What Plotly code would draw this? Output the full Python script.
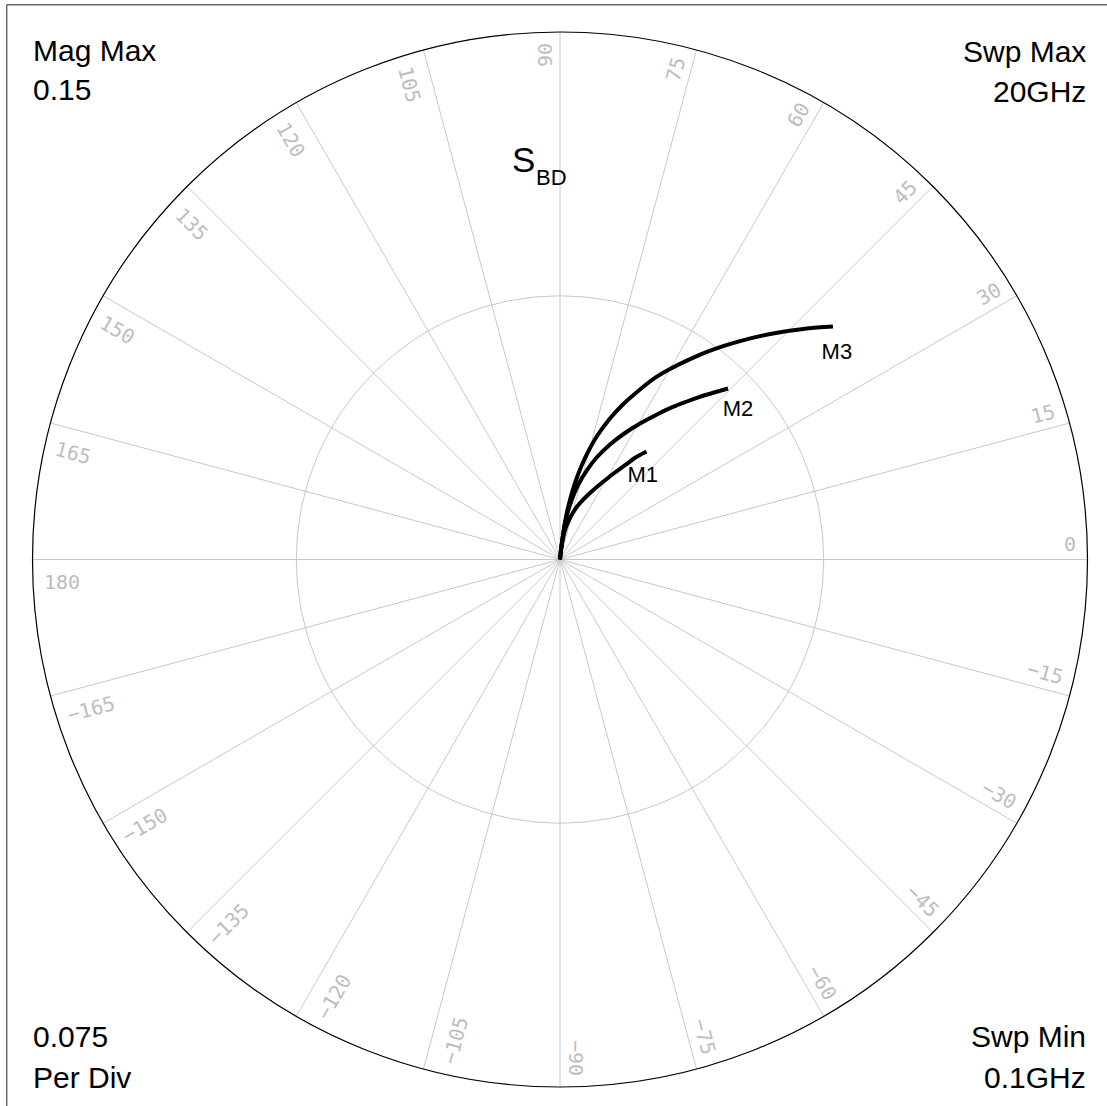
import math
import plotly.graph_objects as go

# ---------------- data (magnitude, phase in degrees) ----------------
m1_mag = [0.0, 0.00272, 0.00676, 0.00940, 0.01214, 0.01534, 0.01814, 0.02074, 0.02353,
          0.02624, 0.02880, 0.03127, 0.03357, 0.03560, 0.03742, 0.03935]
m1_ang = [86.0, 84.0, 81.5, 79.5, 76.5, 72.7, 68.9, 65.7, 62.7,
          60.1, 58.1, 56.3, 54.8, 53.8, 52.6, 51.3]

m2_mag = [0.0, 0.00272, 0.00702, 0.01164, 0.01665, 0.02179, 0.02658, 0.03099, 0.03566,
          0.04044, 0.04487, 0.04961, 0.05397, 0.05765, 0.06099, 0.06460, 0.06817]
m2_ang = [86.0, 84.0, 83.0, 81.6, 79.2, 76.4, 73.2, 70.1, 66.5,
          62.8, 59.5, 56.2, 53.5, 51.2, 49.3, 47.3, 45.5]

m3_mag = [0.0, 0.00272, 0.00702, 0.01220, 0.01716, 0.02217, 0.02697, 0.03159, 0.03666,
          0.04254, 0.04758, 0.05343, 0.05826, 0.06255, 0.06795, 0.07231, 0.07638,
          0.08050, 0.08831, 0.09617, 0.10206]
m3_ang = [86.0, 84.0, 83.0, 82.0, 80.5, 78.9, 77.2, 75.4, 73.3,
          70.5, 67.9, 64.8, 62.4, 60.0, 57.0, 54.7, 52.6,
          50.5, 46.7, 43.1, 40.5]

marker_names = ["M1", "M2", "M3"]
marker_mag = [0.0333, 0.0661, 0.0982]
marker_ang = [45.0, 40.0, 36.7]

mag_max = 0.15
per_div = 0.075
angle_ticks = list(range(-165, 181, 15))

corner_texts = {
    "tl": ["Mag Max", "0.15"],
    "tr": ["Swp Max", "20GHz"],
    "bl": ["0.075", "Per Div"],
    "br": ["Swp Min", "0.1GHz"],
}

# ---------------- geometry ----------------
W, H = 1107, 1106
CX, CY, R = 560.0, 559.5, 527.5


def px(x):
    return x / W


def py(y):
    return 1 - y / H


SANS = "Liberation Sans, Arial, sans-serif"
MONO = "DejaVu Sans Mono, monospace"

fig = go.Figure()

for mags, angs in [(m1_mag, m1_ang), (m2_mag, m2_ang), (m3_mag, m3_ang)]:
    fig.add_trace(go.Scatterpolar(
        r=mags, theta=angs, mode="lines",
        line=dict(color="black", width=4.0, shape="spline", smoothing=0.8),
        showlegend=False, hoverinfo="skip"))

fig.add_trace(go.Scatterpolar(
    r=marker_mag, theta=marker_ang, mode="text", text=marker_names,
    textposition="middle center",
    textfont=dict(family=SANS, size=22, color="black"),
    showlegend=False, hoverinfo="skip"))

annotations = []

# angle labels
FS = 20
for a in angle_ticks:
    lab = str(a).replace("-", "\u2212")
    w = len(lab) * 0.602 * FS
    flipped = abs(a) > 90
    rc = 516 - w / 2
    off = 23 if flipped else 15.5
    th = math.radians(a)
    x = CX + rc * math.cos(th) - off * math.sin(th)
    y = CY - rc * math.sin(th) - off * math.cos(th)
    ang = (180 - a) if flipped else -a
    while ang > 180:
        ang -= 360
    while ang <= -180:
        ang += 360
    annotations.append(dict(
        x=px(x), y=py(y), xref="paper", yref="paper", text=lab,
        showarrow=False, xanchor="center", yanchor="middle", textangle=ang,
        font=dict(family=MONO, size=FS, color="#bdbdbd")))


# corner texts
def corner(text, x, y, anchor):
    annotations.append(dict(
        x=px(x), y=py(y), xref="paper", yref="paper", text=text,
        showarrow=False, xanchor=anchor, yanchor="middle",
        font=dict(family=SANS, size=30, color="black")))


corner(corner_texts["tl"][0], 31, 50, "left")
corner(corner_texts["tl"][1], 31, 90, "left")
corner(corner_texts["tr"][0], 1088, 52, "right")
corner(corner_texts["tr"][1], 1088, 91, "right")
corner(corner_texts["bl"][0], 31, 1036, "left")
corner(corner_texts["bl"][1], 31, 1077, "left")
corner(corner_texts["br"][0], 1088, 1036, "right")
corner(corner_texts["br"][1], 1088, 1077, "right")

# title S_BD
annotations.append(dict(
    x=px(510), y=py(160), xref="paper", yref="paper", text="S",
    showarrow=False, xanchor="left", yanchor="middle",
    font=dict(family=SANS, size=35, color="black")))
annotations.append(dict(
    x=px(534), y=py(177), xref="paper", yref="paper", text="BD",
    showarrow=False, xanchor="left", yanchor="middle",
    font=dict(family=SANS, size=22, color="black")))

shapes = [
    dict(type="line", xref="paper", yref="paper",
         x0=px(6.7), x1=px(6.7), y0=0, y1=py(4.7),
         line=dict(color="#666666", width=1.5)),
    dict(type="line", xref="paper", yref="paper",
         x0=px(6.7), x1=1, y0=py(4.7), y1=py(4.7),
         line=dict(color="#666666", width=1.5)),
]

fig.update_layout(
    width=W, height=H,
    margin=dict(l=0, r=0, t=0, b=0),
    paper_bgcolor="white", plot_bgcolor="white",
    showlegend=False,
    polar=dict(
        domain=dict(x=[px(CX - R), px(CX + R)], y=[py(CY + R), py(CY - R)]),
        bgcolor="white",
        radialaxis=dict(range=[0, mag_max], tickvals=[per_div], showticklabels=False,
                        ticks="", showline=False, gridcolor="#c8c8c8", gridwidth=1),
        angularaxis=dict(tickvals=list(range(0, 360, 15)), showticklabels=False,
                         ticks="", showline=True, linecolor="black", linewidth=1.2,
                         gridcolor="#c8c8c8", gridwidth=1,
                         direction="counterclockwise", rotation=0),
    ),
    annotations=annotations,
    shapes=shapes,
)

fig.write_html(
    "out.html",
    config={"displayModeBar": False},
    post_script="document.body.style.margin='0';document.body.style.overflow='hidden';",
)
